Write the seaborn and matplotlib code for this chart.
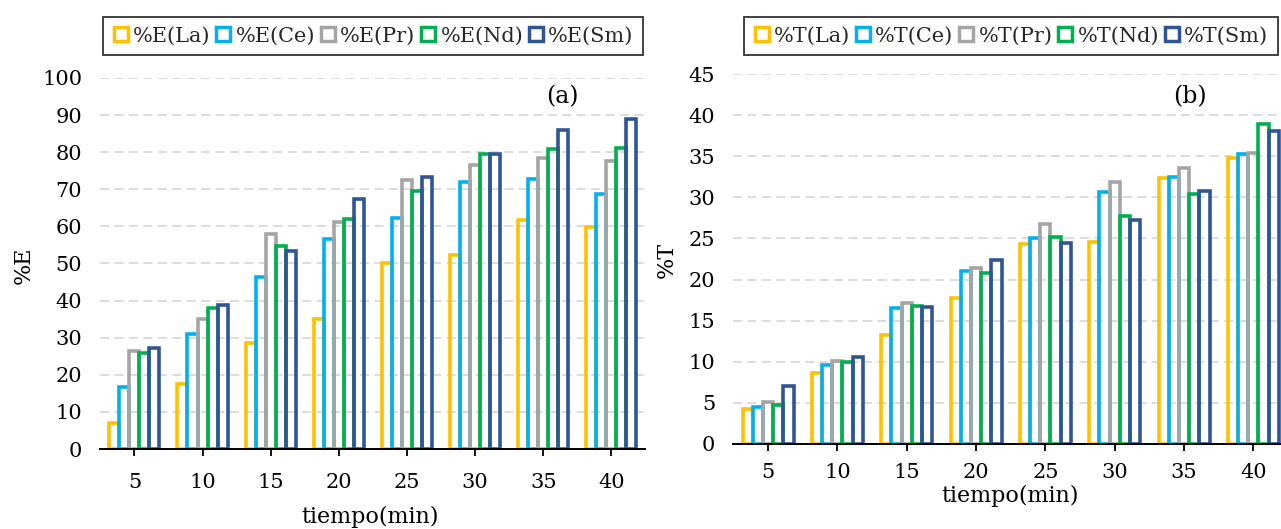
import numpy as np
import pandas as pd
import matplotlib
matplotlib.use("Agg")
import matplotlib.pyplot as plt
from matplotlib.lines import Line2D
import seaborn as sns

# Extraction time (min)
tiempo = [5, 10, 15, 20, 25, 30, 35, 40]

# Extraction percentage per element
E_La = [7.0, 17.6, 28.7, 35.1, 50.0, 52.3, 61.7, 59.9]
E_Ce = [16.8, 31.1, 46.4, 56.5, 62.3, 72.0, 72.8, 68.7]
E_Pr = [26.3, 35.0, 58.0, 61.3, 72.4, 76.5, 78.4, 77.5]
E_Nd = [26.0, 38.0, 54.6, 61.9, 69.5, 79.6, 80.8, 81.0]
E_Sm = [27.1, 38.8, 53.5, 67.4, 73.2, 79.5, 86.0, 88.9]

# Transport percentage per element
T_La = [4.3, 8.6, 13.2, 17.7, 24.3, 24.6, 32.3, 34.8]
T_Ce = [4.5, 9.65, 16.5, 21.0, 25.0, 30.7, 32.5, 35.3]
T_Pr = [5.1, 10.05, 17.1, 21.4, 26.75, 31.9, 33.6, 35.35]
T_Nd = [4.74, 9.97, 16.8, 20.8, 25.2, 27.7, 30.4, 38.9]
T_Sm = [7.1, 10.6, 16.66, 22.4, 24.4, 27.2, 30.8, 38.1]

elementos = ["La", "Ce", "Pr", "Nd", "Sm"]
colores = ["#FFC000", "#00B0F0", "#A5A5A5", "#00B050", "#2F5597"]

sns.set_theme(style="white")
plt.rcParams["font.family"] = ["DejaVu Serif"]
plt.rcParams["mathtext.default"] = "regular"


def tabla(prefijo, series):
    filas = []
    for el, vals in zip(elementos, series):
        for t, v in zip(tiempo, vals):
            filas.append({"tiempo": t, "serie": f"{prefijo}({el})", "valor": v})
    return pd.DataFrame(filas)


df_E = tabla("%E", [E_La, E_Ce, E_Pr, E_Nd, E_Sm])
df_T = tabla("%T", [T_La, T_Ce, T_Pr, T_Nd, T_Sm])

fig = plt.figure(figsize=(12.81, 5.29), dpi=100)
ax1 = fig.add_axes([0.0783, 0.1512, 0.4256, 0.7014])
ax2 = fig.add_axes([0.5725, 0.1607, 0.4330, 0.6994])


def panel(ax, df, ymax, ystep, ylabel, etiqueta, etq_xy, leg_y, tick_pad,
          ylab_xy, xlab_xy):
    paleta = dict(zip(df["serie"].unique(), colores))
    ax.set_axisbelow(True)
    ax.yaxis.grid(True, color="#D9D9D9", linestyle=(0, (5, 3)), linewidth=1.3)
    ax.xaxis.grid(False)
    sns.barplot(data=df, x="tiempo", y="valor", hue="serie", palette=paleta,
                fill=False, linewidth=2.6, width=0.735, gap=0, legend=False,
                errorbar=None, ax=ax)
    ax.set_ylim(0, ymax)
    ax.set_xlim(-0.5, len(tiempo) - 0.5)
    ax.set_yticks(np.arange(0, ymax + 0.1, ystep))
    for s in ["top", "right", "left"]:
        ax.spines[s].set_visible(False)
    ax.spines["bottom"].set_color("black")
    ax.spines["bottom"].set_linewidth(1.4)
    ax.spines["bottom"].set_zorder(5)
    ax.tick_params(axis="x", bottom=True, length=5, width=1.3, color="black",
                   labelsize=15, pad=tick_pad, labelcolor="black")
    ax.tick_params(axis="y", left=False, length=0, labelsize=15, pad=13,
                   labelcolor="black")
    ax.set_xlabel("tiempo(min)", fontsize=16, color="black")
    ax.set_ylabel(ylabel, fontsize=16, color="black")
    ax.yaxis.set_label_coords(*ylab_xy)
    ax.xaxis.set_label_coords(*xlab_xy)
    ax.text(etq_xy[0], etq_xy[1], etiqueta, fontsize=17, ha="center", va="center",
            color="black")
    handles = [Line2D([], [], linestyle="none", marker="s", markersize=9.5,
                      markerfacecolor="white", markeredgecolor=c, markeredgewidth=2.5)
               for c in colores]
    leg = ax.legend(handles, list(paleta.keys()), loc="center",
                    bbox_to_anchor=(0.5, leg_y), ncol=5, fontsize=15,
                    frameon=True, fancybox=False, edgecolor="black",
                    handlelength=0.8, handletextpad=0.2, columnspacing=0.2,
                    borderpad=0.45, borderaxespad=0)
    leg.get_frame().set_linewidth(1.3)


panel(ax1, df_E, 100, 10, "%E", "(a)", (6.28, 95), 1.113, 12,
      (-0.12, 0.496), (0.495, -0.152))
panel(ax2, df_T, 45, 5, "%T", "(b)", (6.08, 42.2), 1.103, 9,
      (-0.1, 0.497), (0.499, -0.11))

fig.savefig("out.png", dpi=100)
